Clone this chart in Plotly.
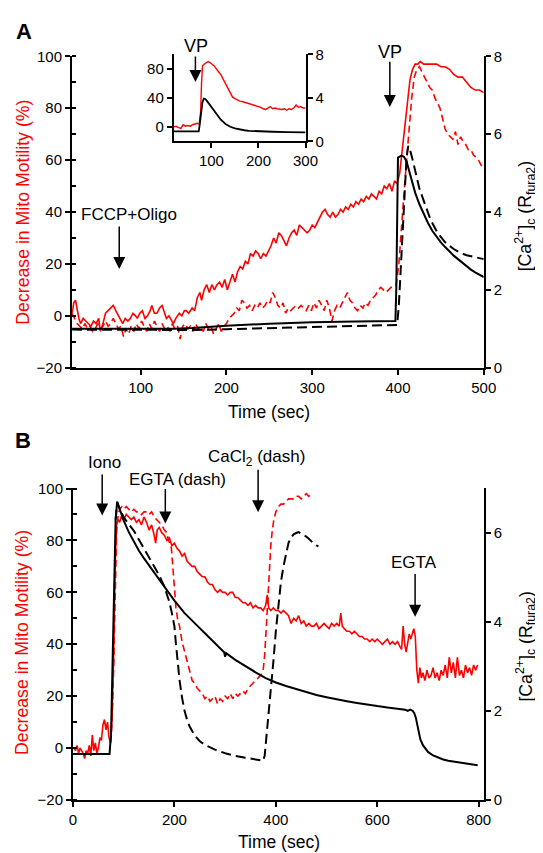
import plotly.graph_objects as go

FONT = "Liberation Sans, Arial, sans-serif"
RED = "#ff0000"

# ---------------- Panel A (main) ----------------
RS_A_T = [20,22,24,26,28,30,33,36,39,42,
          45,48,51,53,56,59,62,65,68,71,
          74,77,79,82,85,88,91,94,96,99,
          102,105,108,111,113,116,119,122,125,128,
          130,133,136,138,141,145,148,151,153,156,
          160,163,166,169,171,174,177,180,183,186,
          189,192,195,198,201,204,207,210,213,216,
          219,222,225,228,231,234,237,240,243,246,
          249,252,255,258,261,264,267,270,273,276,
          279,282,285,288,291,294,297,300,303,306,
          309,312,315,318,321,324,327,330,333,336,
          339,342,345,348,351,354,357,360,363,366,
          369,372,375,378,381,384,387,390,393,396,
          399,402,405,408,411,414,417,420,423,426,
          430,435,440,445,450,455,460,465,470,475,
          480,485,490,495,500]
RS_A_V = [1,5,6,2,-1,-3,-1,-2,-3,-4,
          -2,-3,-1,-6,-3,1,2,3,4,2,
          0,-2,-3,-1,-2,-1,1,0,-1,1,
          2,-1,0,2,4,1,1,3,4,1,
          -1,0,-2,-3,-1,1,0,2,2,1,
          3,2,7,9,6,10,12,9,12,10,
          12,13,11,14,10,13,16,13,17,19,
          18,21,20,24,23,25,24,22,24,23,
          25,27,30,28,32,31,29,27,30,32,
          33,31,35,34,33,32,33,35,34,36,
          38,40,41,39,38,40,38,39,41,40,
          42,41,43,42,44,43,45,44,46,45,
          47,46,45,48,47,50,49,51,48,52,
          51,55,64,75,84,91,95,97,97,98,
          97,97,97,97,96,96,95,93,92,92,
          90,88,87,87,86]

RD_A_T = [20,23,26,29,32,35,38,41,44,47,
          50,53,56,59,62,65,68,71,74,77,
          80,83,86,89,92,95,98,101,104,107,
          110,113,116,119,122,125,128,131,134,137,
          140,143,146,149,152,155,158,161,164,167,
          170,173,176,179,182,185,188,191,194,197,
          200,203,206,209,212,215,218,221,224,227,
          230,233,236,239,242,245,248,251,254,257,
          260,263,266,269,272,275,278,281,284,287,
          290,293,296,299,302,305,308,311,314,317,
          320,323,326,329,332,335,338,341,344,347,
          350,353,356,359,362,365,368,371,374,377,
          380,383,386,389,392,395,398,401,404,407,
          410,413,416,419,422,425,428,431,434,437,
          440,443,446,449,452,455,458,461,464,467,
          470,473,476,479,482,485,488,491,494,497,500]
RD_A_V = [1,-1,-3,-4,-5,-3,-5,-4,-6,-5,
          -3,-5,-4,-2,-4,-3,-1,-3,-5,-4,
          -8,-5,-7,-4,-6,-3,-5,-2,-4,-6,
          -3,-5,-2,-4,-6,-3,-5,-4,-6,-3,
          -5,-4,-9,-4,-3,-5,-4,-6,-3,-5,
          -4,-6,-3,-5,-4,-7,-5,-3,-6,-4,
          -3,-1,0,1,3,2,6,5,3,4,
          2,4,3,5,3,4,6,5,9,7,
          4,3,5,1,3,2,3,4,3,4,
          3,2,4,2,5,3,6,4,2,6,
          3,-2,2,4,3,5,7,9,6,5,
          3,2,4,3,5,4,6,7,8,10,
          11,10,9,10,11,11,12,20,35,47,
          60,72,84,92,95,96,94,92,90,88,
          87,84,82,80,76,72,70,69,68,71,
          66,69,67,66,64,64,62,61,60,58,57]

BS_A_T = [20,60,100,140,160,180,200,250,300,350,397,398,399,400,404,407,410,413,416,420,
          425,430,435,440,445,450,455,460,465,470,475,480,485,490,495,500]
BS_A_V = [1.0,1.0,1.0,1.0,1.02,1.05,1.08,1.13,1.17,1.19,1.2,2.0,4.0,5.4,5.45,5.42,5.3,5.05,4.8,4.5,
          4.2,3.95,3.72,3.52,3.36,3.22,3.1,2.98,2.88,2.79,2.7,2.6,2.52,2.45,2.39,2.33]

BD_A_T = [20,100,160,200,250,300,350,399,401,404,407,410,412,414,417,420,425,431,438,446,
          455,465,472,480,490,500]
BD_A_V = [0.98,0.97,0.97,0.99,1.02,1.05,1.07,1.1,1.6,3.0,4.4,5.4,5.7,5.6,5.35,5.07,4.6,4.23,3.8,3.47,
          3.22,3.05,2.96,2.89,2.83,2.79]

# ---------------- Panel A (inset) ----------------
IN_RED_T = [20,25,30,35,40,45,50,55,60,65,
            70,74,77,79,81,84,87,90,93,96,
            99,102,106,110,115,120,125,130,135,140,
            145,150,155,160,165,170,175,180,185,190,
            195,200,205,210,215,220,225,230,235,240,
            245,250,255,260,265,270,275,280,285,290,
            295,300]
IN_RED_V = [0,1,-1,-2,3,1,2,1,3,4,
            5,4,20,60,84,86,87,88,90,89,
            88,86,84,80,76,72,66,59,53,46,
            41,39,37,35.5,35,34,33,33,31,30,
            29,28,27,25,24,26,28,25,26,25,
            24,24,25,23,25,24,26,30,27,28,
            26,26]
IN_BLK_T = [20,73,75,77,79,81,84,87,90,95,100,105,110,120,130,140,150,160,170,180,200,230,260,300]
IN_BLK_V = [0.93,0.93,1.5,2.4,3.1,3.6,3.93,3.9,3.75,3.45,3.1,2.8,2.5,2.0,1.6,1.35,1.2,1.1,1.03,0.98,0.93,0.89,0.86,0.84]

# ---------------- Panel B ----------------
RS_B_T = [2,5,8,11,14,17,20,23,26,29,
          32,35,38,41,44,47,50,53,56,59,
          62,65,68,71,74,77,80,83,86,89,
          92,95,100,105,110,115,120,125,130,135,
          140,145,150,155,160,163,166,170,175,180,
          185,190,195,200,205,210,215,220,225,230,
          235,240,245,250,255,260,265,270,275,280,
          285,290,295,300,305,310,315,320,325,330,
          335,340,345,350,355,360,365,370,375,380,
          383,386,390,395,400,405,410,415,420,425,
          430,435,440,445,450,455,460,465,470,475,
          480,485,490,495,500,505,510,515,520,525,
          528,531,535,540,545,550,555,560,565,570,
          575,580,585,590,595,600,605,610,615,620,
          625,630,635,640,645,648,651,654,657,660,
          663,666,669,672,675,678,681,684,687,690,
          694,698,702,706,710,714,718,722,726,730,
          734,738,742,746,750,754,758,762,766,770,
          774,778,782,786,790,794,798]
RS_B_V = [0,-1,1,-2,0,-1,-2,-4,-1,-2,
          1,-3,5,-1,2,-2,0,4,3,9,
          11,7,10,4,2,12,35,70,86,88,
          87,89,88,90,89,88,89,87,88,86,
          89,87,84,86,82,79,84,85,83,82,
          80,81,78,79,77,76,74,75,72,71,
          70,70,68,67,66,66,64,63,63,61,
          60,61,60,60,59,60,60,58,58,57,
          56,56,55,56,54,55,54,54,53,55,
          59,54,53,54,53,53,52,53,52,51,
          48,50,49,51,48,49,47,48,47,47,
          48,46,47,48,47,46,48,47,48,47,
          52,47,46,45,45,44,45,44,43,43,
          42,42,41,42,41,42,41,40,41,42,
          40,41,40,41,39,38,47,40,37,41,
          44,42,44,46,43,30,25,31,27,29,
          26,30,27,28,31,27,29,26,30,28,
          32,27,35,29,33,27,35,28,30,27,
          32,29,31,28,32,30,32]

RD_B_T = [74,77,80,83,86,89,92,96,100,105,
          110,115,120,125,130,135,140,145,150,155,
          160,165,170,175,180,185,188,191,194,197,
          200,203,206,210,215,220,225,230,235,240,
          245,250,255,260,265,270,275,280,285,290,
          295,300,305,310,315,320,325,330,335,340,
          345,350,355,360,365,370,375,378,381,384,
          387,390,393,396,400,405,410,415,420,425,
          430,435,440,445,450,455,460,465,470]
RD_B_V = [2,10,30,62,84,90,92,93,92,93,
          92,91,92,91,91,90,91,91,90,91,
          89,88,87,86,84,83,80,79,77,70,
          60,54,50,47,41,37,33,29,26,25,
          23,22,21,19,20,18,19,20,17,19,
          18,20,19,21,19,21,20,21,22,21,
          23,24,25,26,27,28,30,36,46,58,
          70,78,84,88,91,93,94,94,95,96,
          96,96,97,97,96,97,98,97,98]

BS_B_T = [0,30,60,72,75,78,81,84,87,90,
          95,100,110,120,130,140,150,160,170,180,
          190,200,220,240,260,280,298,300,302,320,
          340,360,380,400,420,440,460,480,500,520,
          540,560,580,600,620,640,655,660,665,670,
          673,676,679,682,685,690,695,700,710,720,
          730,740,750,760,770,780,790,798]
BS_B_V = [1.03,1.03,1.03,1.03,1.5,3.2,5.0,6.3,6.7,6.6,
          6.42,6.28,6.02,5.8,5.6,5.43,5.27,5.12,4.97,4.8,
          4.63,4.48,4.2,3.97,3.75,3.53,3.32,3.22,3.3,3.15,
          3.0,2.87,2.74,2.64,2.56,2.49,2.42,2.36,2.31,2.26,
          2.22,2.18,2.14,2.11,2.08,2.05,2.03,2.0,2.03,2.0,
          1.95,1.85,1.7,1.5,1.36,1.23,1.14,1.08,1.0,0.95,
          0.91,0.88,0.86,0.84,0.82,0.8,0.79,0.78]

BD_B_T = [84,87,90,95,100,110,120,130,140,150,
          160,170,180,190,195,200,203,206,210,215,
          220,225,230,240,250,260,270,280,300,320,
          340,360,375,378,381,385,390,395,400,405,
          410,415,420,425,430,435,440,445,450,455,
          460,465,470,475,480,484]
BD_B_V = [6.3,6.7,6.6,6.48,6.35,6.2,6.05,5.85,5.65,5.45,
          5.25,5.05,4.8,4.45,4.2,3.9,3.5,3.1,2.7,2.3,
          2.0,1.8,1.65,1.45,1.32,1.24,1.18,1.13,1.05,0.99,
          0.95,0.91,0.88,1.0,1.35,1.8,2.4,3.1,3.8,4.4,
          4.9,5.25,5.55,5.78,5.9,5.97,6.0,6.02,5.98,5.95,
          5.92,5.87,5.81,5.76,5.72,5.7]

for a, b in [(RS_A_T, RS_A_V), (RD_A_T, RD_A_V), (BS_A_T, BS_A_V), (BD_A_T, BD_A_V),
             (IN_RED_T, IN_RED_V), (IN_BLK_T, IN_BLK_V), (RS_B_T, RS_B_V), (RD_B_T, RD_B_V),
             (BS_B_T, BS_B_V), (BD_B_T, BD_B_V)]:
    assert len(a) == len(b), (len(a), len(b))

W, H = 543, 853
def fx(p):
    return p / W
def fy(p):
    return 1 - p / H

# pixel frames of the three plot areas (left, right, top, bottom) and their data ranges
FRAME_A = (62, 487, 40, 358, 20, 500, -20, 100)
FRAME_IN = (167, 303, 38, 127, 20, 300, -20, 100)
FRAME_B = (63, 487, 481, 799, 0, 810, -20, 100)

def to_paper(frame, t, v):
    l, r, tp, bt, x0, x1, y0, y1 = frame
    px = l + (t - x0) / (x1 - x0) * (r - l)
    py = bt - (v - y0) / (y1 - y0) * (bt - tp)
    return fx(px), fy(py)

fig = go.Figure()

def line(t, v, xa, ya, color, dash=None, width=1.6):
    fig.add_trace(go.Scatter(x=t, y=v, xaxis=xa, yaxis=ya, mode="lines",
                             line=dict(color=color, width=width, dash=dash),
                             hoverinfo="skip", showlegend=False))

RED_DASH = "7px,4px"
BLK_DASH = "10px,5px"

# Panel A main
line(RS_A_T, RS_A_V, "x", "y", RED)
line(RD_A_T, RD_A_V, "x", "y", RED, RED_DASH)
line(BS_A_T, BS_A_V, "x", "y2", "black", None, 2)
line(BD_A_T, BD_A_V, "x", "y2", "black", BLK_DASH, 2)
# Inset
line(IN_RED_T, IN_RED_V, "x2", "y3", RED, None, 1.4)
line(IN_BLK_T, IN_BLK_V, "x2", "y4", "black", None, 1.8)
# Panel B
line(RS_B_T, RS_B_V, "x3", "y5", RED)
line(RD_B_T, RD_B_V, "x3", "y5", RED, RED_DASH)
line(BS_B_T, BS_B_V, "x3", "y6", "black", None, 2)
line(BD_B_T, BD_B_V, "x3", "y6", "black", BLK_DASH, 2)

tickfont = dict(family=FONT, size=15, color="black")
def axis(**kw):
    d = dict(showline=True, linecolor="black", linewidth=2, ticks="outside", ticklen=5,
             tickwidth=2, tickcolor="black", showgrid=False, zeroline=False,
             tickfont=tickfont, fixedrange=True)
    d.update(kw)
    return d

minor = dict(dtick=10, ticks="inside", ticklen=4, tickwidth=1.5, tickcolor="black", showgrid=False)

fig.update_layout(
    width=W, height=H, margin=dict(l=0, r=0, t=0, b=0),
    paper_bgcolor="white", plot_bgcolor="rgba(0,0,0,0)", showlegend=False,
    font=dict(family=FONT, color="black"),
    xaxis=axis(domain=[fx(62), fx(487)], anchor="y", range=[20, 500],
               tickvals=[100, 200, 300, 400, 500]),
    yaxis=axis(domain=[fy(358), fy(40)], anchor="x", range=[-20.05, 100.05],
               tickvals=[-20, 0, 20, 40, 60, 80, 100], minor=minor),
    yaxis2=axis(overlaying="y", anchor="x", side="right", range=[-0.0033, 8.0033],
                tickvals=[0, 2, 4, 6, 8]),
    xaxis2=axis(domain=[fx(167), fx(303)], anchor="y3", range=[20, 300],
                tickvals=[100, 200, 300]),
    yaxis3=axis(domain=[fy(127), fy(38)], anchor="x2", range=[-20, 100.05],
                tickvals=[0, 40, 80]),
    yaxis4=axis(overlaying="y3", anchor="x2", side="right", range=[0, 8.0033],
                tickvals=[0, 4, 8]),
    xaxis3=axis(domain=[fx(63), fx(487)], anchor="y5", range=[0, 810],
                tickvals=[0, 200, 400, 600, 800]),
    yaxis5=axis(domain=[fy(799), fy(481)], anchor="x3", range=[-20.05, 100.05],
                tickvals=[-20, 0, 20, 40, 60, 80, 100], minor=minor),
    yaxis6=axis(overlaying="y5", anchor="x3", side="right", range=[-0.003, 7.003],
                tickvals=[0, 2, 4, 6]),
)

ann = []
def text(x, y, s, size=17, color="black", **kw):
    d = dict(x=x, y=y, text=s, xref="paper", yref="paper", showarrow=False,
             font=dict(family=FONT, size=size, color=color),
             xanchor="center", yanchor="middle")
    d.update(kw)
    ann.append(d)

def dtext(frame, t, v, s, size=17):
    x, y = to_paper(frame, t, v)
    text(x, y, s, size=size)

def arrow(x, y_tip, y_tail, xref, yref):
    ann.append(dict(x=x, y=y_tip, ax=x, ay=y_tail, xref=xref, yref=yref,
                    axref=xref, ayref=yref, text="", showarrow=True,
                    arrowhead=2, arrowsize=1.6, arrowwidth=1.5, arrowcolor="black"))

# Panel labels
text(fx(12), fy(15), "<b>A</b>", size=22)
text(fx(11), fy(432), "<b>B</b>", size=22)

CA_TITLE = "[Ca<sup>2+</sup>]<sub>c</sub> (R<sub>fura2</sub>)"
TSIZE = 17.7
# Axis titles (panel A)
text(fx(11), fy(199), "Decrease in Mito Motility (%)", size=TSIZE, color=RED, textangle=-90)
text(fx(530), fy(203), CA_TITLE, size=TSIZE, textangle=-90)
text(fx(265), fy(403), "Time (sec)", size=17.5)
# Axis titles (panel B)
text(fx(11), fy(638), "Decrease in Mito Motility (%)", size=TSIZE, color=RED, textangle=-90)
text(fx(530), fy(642), CA_TITLE, size=TSIZE, textangle=-90)
text(fx(276), fy(842), "Time (sec)", size=17.5)

# Panel A annotations
dtext(FRAME_A, 86, 39, "FCCP+Oligo")
arrow(75, 18, 35, "x", "y")
dtext(FRAME_A, 391, 101.5, "VP", size=18)
arrow(390.5, 80.5, 98.5, "x", "y")
# Inset annotations
dtext(FRAME_IN, 67, 112, "VP", size=18)
arrow(66, 62, 99, "x2", "y3")
# Panel B annotations
dtext(FRAME_B, 62, 110, "Iono")
arrow(57.5, 89.6, 106, "x3", "y5")
dtext(FRAME_B, 207, 103.5, "EGTA (dash)")
arrow(182, 86.5, 100.4, "x3", "y5")
dtext(FRAME_B, 362, 111.6, "CaCl<sub>2</sub> (dash)")
arrow(365, 90.9, 107.8, "x3", "y5")
dtext(FRAME_B, 672, 71.4, "EGTA")
arrow(674.6, 50.6, 67.6, "x3", "y5")

fig.update_layout(annotations=ann)
fig.write_html("out.html")
